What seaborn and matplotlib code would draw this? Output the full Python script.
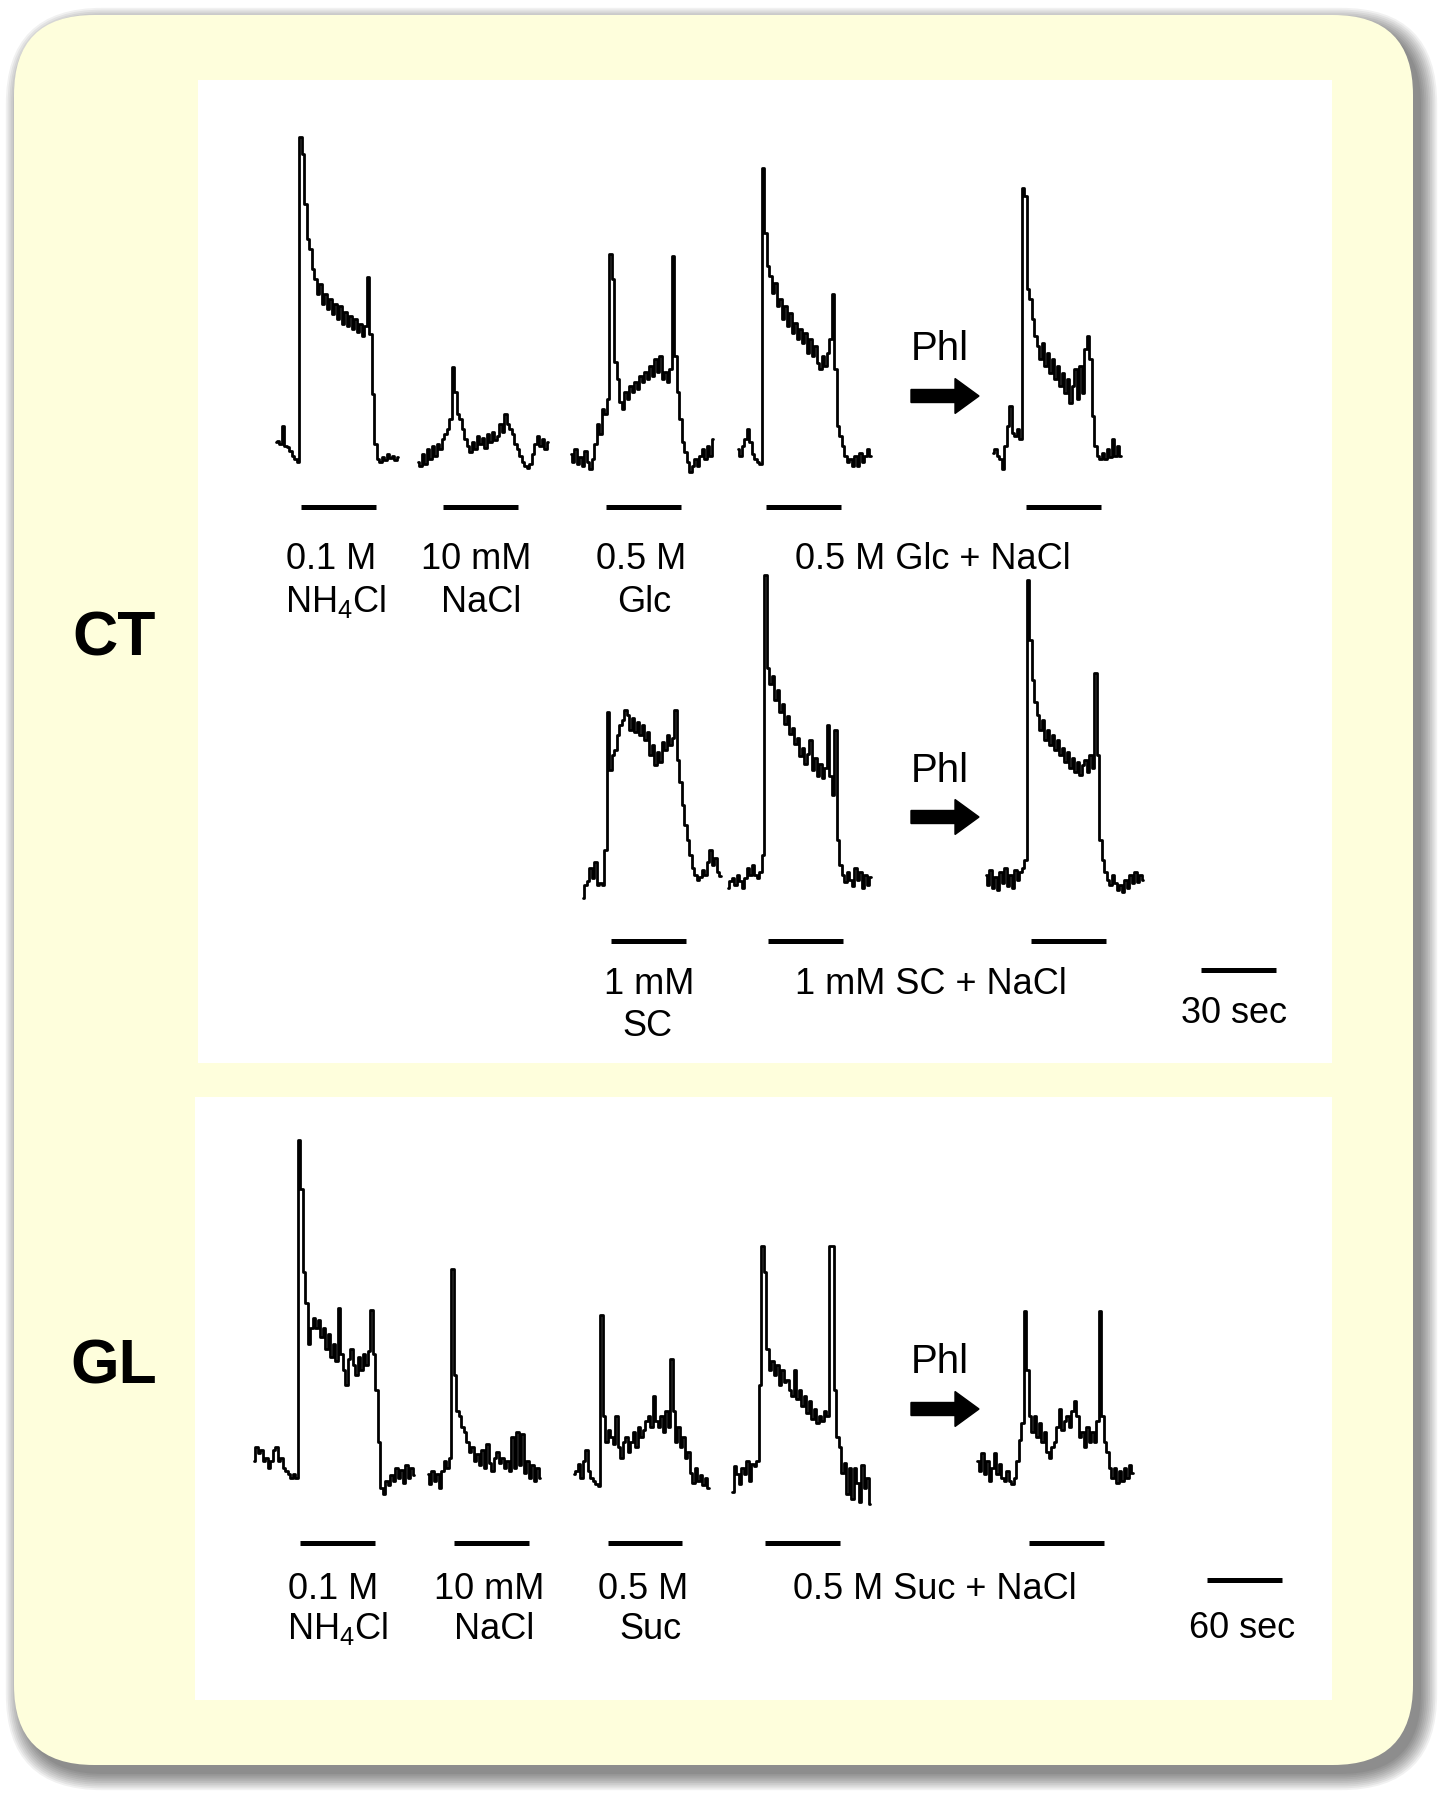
import matplotlib
matplotlib.use("Agg")

import numpy as np
import matplotlib.pyplot as plt
from matplotlib.patches import FancyBboxPatch, FancyArrow
import seaborn as sns

# ---- whole-nerve responses (a.u. above baseline) ----
# CT, sampled every 1 s
ct_nh4cl = [12, 13, 10, 28, 8, 7, 3, -2, -5, -8,
            317, 300, 250, 215, 205, 185, 175, 160, 170, 150, 160, 145, 155, 140, 150,
            135, 148, 130, 142, 128, 138, 125, 135, 122, 130, 118, 128, 177, 120, 60, 10,
            -5, -8, -3, -6, 0, -4, -2, -6, -3]
ct_nacl = [-8, -12, 0, -10, 5, -5, 8, -2, 10, 5, 15, 20, 25, 35, 87, 62, 40, 35, 25, 15,
           8, 2, 12, 5, 18, 10, 16, 6, 20, 12, 22, 14, 18, 30, 22, 40, 30, 25, 20, 10,
           5, -2, -8, -12, -14, -10, 0, 10, 18, 8, 15, 5, 12]
ct_glc = [0, -8, 5, -10, -3, -12, 3, -8, -15, -5, 10, 30, 20, 45, 40, 55,
          200, 175, 92, 75, 52, 45, 62, 55, 68, 62, 72, 65, 78, 72, 82, 75, 88, 78, 95, 82,
          98, 75, 82, 72, 85, 198, 98, 62, 35, 12, 2, -8, -18, -12, -5, -12, -2, 5, -5, 8,
          -2, 15]
ct_glc_nacl = [5, -2, 8, 15, 25, 12, 0, -5, -8, -10,
               286, 221, 188, 178, 161, 171, 148, 155, 135, 148, 128, 141, 121, 131, 115,
               125, 111, 121, 101, 115, 98, 108, 91, 85, 98, 88, 101, 115, 160, 85,
               28, 18, 8, -2, -8, -5, -12, -2, -12, 1, -8, -2, 5, -2]
ct_phl_glc_nacl = [1, 5, -2, -5, -15, 8, 28, 48, 21, 18, 25, 15,
                   266, 258, 165, 155, 135, 118, 108, 95, 111, 88, 101, 81, 95, 75, 88, 68,
                   81, 61, 75, 51, 68, 85, 55, 88, 61, 105, 118, 95, 38, 8,
                   -2, -5, 1, -5, 5, -3, 15, -2, 8, -2]
ct_sc = [-18, -5, -1, 12, 2, 18, -5, -3, -5,
         30, 168, 110, 125, 130, 145, 155, 160, 170, 165, 150, 162, 148, 158, 145, 155,
         140, 148, 125, 135, 115, 128, 118, 138, 130, 145, 135, 142, 170, 120, 98, 75,
         55, 40, 25, 12, 5, 0, 3, 10, 5, 18, 30, 15, 22, 8, 4]
ct_sc_nacl = [-8, -1, 2, -5, 5, -1, -8, 2, 12, 5, 15, 5, 2, 8,
              25, 305, 212, 196, 204, 180, 190, 168, 176, 156, 164, 146, 152, 136, 142,
              124, 132, 116, 126, 140, 110, 122, 104, 116, 102, 112, 155, 104, 85, 150,
              40, 15, 5, -2, 8, 0, -6, 12, 0, 8, -8, 5, -5, 3]
ct_phl_sc_nacl = [5, -5, 10, -8, 3, -10, 8, -3, 12, -6, 5, -8, 10, 0, 8, 12, 20,
                  300, 240, 200, 178, 165, 150, 160, 140, 150, 135, 145, 130, 140, 125,
                  132, 118, 128, 112, 122, 108, 118, 105, 115, 120, 108, 125, 112, 207, 125,
                  40, 20, 8, 0, -5, 5, -3, -10, -5, -12, 0, -8, 5, -3, 8, -2, 5, 0]

# GL, sampled every 2 s
gl_nh4cl = [12, 25, 19, 22, 12, 15, 5, 12, 22, 25, 12, 15, 5, 2, -1, -5, -1, -5,
            322, 275, 195, 165, 125, 140, 150, 140, 148, 132, 140, 120, 135, 112, 125,
            108, 160, 115, 100, 85, 110, 120, 105, 95, 112, 100, 115, 105, 118, 158, 115,
            80, 30, -15, -20, -8, -12, -2, -8, 5, -5, 3, -10, 8, -5, 5, -2]
gl_nacl = [-1, -11, 2, -8, -1, -15, 2, 12, 5, 15,
           197, 95, 60, 55, 45, 40, 30, 20, 25, 12, 18, 8, 22, 5, 28, 10, 2, 15, 20, 10,
           15, 5, 12, 2, 35, 5, 40, 8, 38, 0, 12, -5, 8, -8, 5, -5]
gl_suc = [-1, 2, 9, -5, 12, 22, 2, -5, -8, -11, -13,
          153, 55, 30, 42, 35, 28, 55, 25, 15, 30, 35, 20, 30, 40, 25, 45, 35, 42, 50, 55,
          45, 75, 50, 45, 55, 40, 60, 45, 110, 60, 30, 45, 25, 35, 15, 20, 0, -10, 5, -8,
          -2, -12, -5, -15]
gl_suc_nacl = [-18, 7, -1, -11, 5, -1, 12, -8, 9, 7, 12,
               85, 220, 195, 120, 100, 108, 95, 105, 85, 100, 88, 90, 80, 75, 100, 72, 80,
               65, 75, 58, 70, 52, 62, 48, 55, 50, 60, 55, 220, 220, 80, 35, 25, 0, 10,
               -20, 5, -25, 5, -10, -28, 8, -15, -5, -30]
gl_phl_suc_nacl = [12, 2, 19, -1, 12, -8, 5, 19, -1, 9, -5, -8, 2, -8, -11, -5, 12, 32, 48,
                   157, 100, 55, 40, 55, 35, 48, 30, 40, 20, 15, 25, 30, 45, 62, 42, 50, 55,
                   45, 60, 70, 55, 35, 40, 25, 45, 30, 40, 30, 50, 157, 55, 30, 20, 5, -5,
                   5, -10, 2, -8, 5, -5, 8, 0]

# stimulus onset (s after trace start) and duration
ct_onsets = [10, 10, 14, 11, 13, 11, 16, 18]
gl_onsets = [37, 21, 27, 26, 41]
ct_stim_s = 30
gl_stim_s = 60

# ---- layout ----
W, H = 1442, 1800
CT_DT, GL_DT = 1.0, 2.0
CT_PX_S, GL_PX_S = 2.5, 1.25
ct_traces = [ct_nh4cl, ct_nacl, ct_glc, ct_glc_nacl, ct_phl_glc_nacl,
             ct_sc, ct_sc_nacl, ct_phl_sc_nacl]
ct_start = [31, 88, 149, 216, 318, 154, 212, 315]     # s
ct_row = [0, 0, 0, 0, 0, 1, 1, 1]
ct_row_base = [0, -426]
ct_bar_y = [-53, -487]
gl_traces = [gl_nh4cl, gl_nacl, gl_suc, gl_suc_nacl, gl_phl_suc_nacl]
gl_start = [47, 186, 303, 430, 626]
gl_bar_y = -68

sns.set_theme(style="white")
plt.rcParams["font.family"] = ["Liberation Sans", "DejaVu Sans"]
plt.rcParams["mathtext.default"] = "regular"
plt.rcParams["text.color"] = "black"

fig = plt.figure(figsize=(W / 100, H / 100), dpi=100)


def px_rect(x0, y0, x1, y1):
    return [x0 / W, 1 - y1 / H, (x1 - x0) / W, (y1 - y0) / H]


# background card with soft shadow
bg = fig.add_axes([0, 0, 1, 1])
bg.set_xlim(0, W)
bg.set_ylim(H, 0)
bg.axis("off")
bg.set_zorder(0)
for k in range(10):
    p = 1.8 * k
    bg.add_patch(FancyBboxPatch((22 - p, 24 - p), 1399 + 2 * p, 1750 + 2 * p,
                                boxstyle=f"round,pad=0,rounding_size={80 + p}",
                                fc="black", ec="none", alpha=0.055))
bg.add_patch(FancyBboxPatch((14, 15), 1399, 1750, boxstyle="round,pad=0,rounding_size=80",
                            fc="#FEFEDC", ec="none"))

trace_kw = dict(color="black", linewidth=2.0, drawstyle="steps-mid",
                estimator=None, sort=False)


def clean(ax):
    ax.set_xticks([])
    ax.set_yticks([])
    ax.set_xlabel("")
    ax.set_ylabel("")
    for s in ax.spines.values():
        s.set_visible(False)


# CT panel
ct_ax = fig.add_axes(px_rect(198, 80, 1332, 1063))
ct_ax.set_zorder(1)
ct_ax.set_facecolor("white")
for vals, t0, row, on in zip(ct_traces, ct_start, ct_row, ct_onsets):
    t = t0 + np.arange(len(vals)) * CT_DT
    sns.lineplot(x=t, y=np.array(vals) + ct_row_base[row], ax=ct_ax, **trace_kw)
    ct_ax.hlines(ct_bar_y[row], t0 + on, t0 + on + ct_stim_s, color="black", lw=3.6)
ct_ax.hlines(-516, 401, 401 + 30, color="black", lw=3.6)   # 30 sec scale
ct_ax.set_xlim(0, (1332 - 198) / CT_PX_S)
ct_ax.set_ylim(454 - 1063, 454 - 80)
clean(ct_ax)

# GL panel
gl_ax = fig.add_axes(px_rect(195, 1097, 1332, 1700))
gl_ax.set_zorder(1)
gl_ax.set_facecolor("white")
for vals, t0, on in zip(gl_traces, gl_start, gl_onsets):
    t = t0 + np.arange(len(vals)) * GL_DT
    sns.lineplot(x=t, y=vals, ax=gl_ax, **trace_kw)
    gl_ax.hlines(gl_bar_y, t0 + on, t0 + on + gl_stim_s, color="black", lw=3.6)
gl_ax.hlines(-104, 810, 810 + 60, color="black", lw=3.6)   # 60 sec scale
gl_ax.set_xlim(0, (1332 - 195) / GL_PX_S)
gl_ax.set_ylim((1473 - 1700) / 1.033, (1473 - 1097) / 1.033)
clean(gl_ax)

# labels and arrows
ov = fig.add_axes([0, 0, 1, 1])
ov.set_xlim(0, W)
ov.set_ylim(H, 0)
ov.axis("off")
ov.set_zorder(2)
ov.patch.set_alpha(0)

lab = dict(fontsize=26, ha="center", va="baseline", color="black")
for x, y, s in [(331, 569, "0.1 M"), (336, 612, "NH$_4$Cl"),
                (476, 569, "10 mM"), (481, 612, "NaCl"),
                (641, 569, "0.5 M"), (644, 612, "Glc"),
                (933, 569, "0.5 M Glc + NaCl"),
                (649, 994, "1 mM"), (647, 1036, "SC"),
                (931, 994, "1 mM SC + NaCl"),
                (1234, 1023, "30 sec"),
                (333, 1599, "0.1 M"), (338, 1639, "NH$_4$Cl"),
                (489, 1599, "10 mM"), (494, 1639, "NaCl"),
                (643, 1599, "0.5 M"), (650, 1639, "Suc"),
                (935, 1599, "0.5 M Suc + NaCl"),
                (1242, 1638, "60 sec")]:
    ov.text(x, y, s, **lab)

for y_txt, y_arr in [(360, 396), (782, 817), (1373, 1409)]:
    ov.text(940, y_txt, "Phl", fontsize=29, ha="center", va="baseline", color="black")
    ov.add_patch(FancyArrow(911, y_arr, 68, 0, width=13, head_width=35, head_length=24,
                            length_includes_head=True, color="black"))

ov.text(114, 655, "CT", fontsize=45, fontweight="bold", ha="center", va="baseline",
        color="black")
ov.text(114, 1383, "GL", fontsize=45, fontweight="bold", ha="center", va="baseline",
        color="black")

fig.savefig("out.png", dpi=100)
plt.close(fig)
